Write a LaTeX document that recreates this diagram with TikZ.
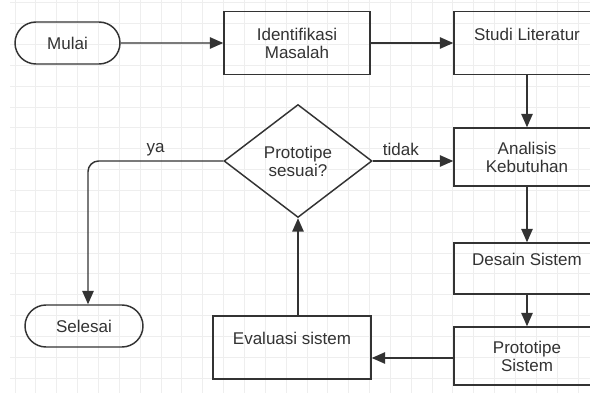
\documentclass[tikz,border=0pt]{standalone}
\usepackage{fontspec}
\setmainfont{Liberation Sans}
\usepackage{tikz}
\usetikzlibrary{shapes.misc,shapes.geometric,arrows.meta}
\definecolor{ink}{HTML}{333333}
\definecolor{gridgray}{HTML}{EEEEEE}

\begin{document}
\begin{tikzpicture}[x=0.75pt, y=-0.75pt,
    font=\fontsize{12.75}{13.5}\selectfont,
    gridline/.style={gridgray, line width=0.6pt},
    terminal/.style={draw=ink, text=ink, line width=1.1pt, rounded rectangle,
                     minimum height=31.5pt, inner sep=0pt},
    process/.style={draw=ink, text=ink, line width=1.1pt, rectangle, align=center,
                    minimum width=109.5pt, inner sep=0pt},
    decision/.style={draw=ink, text=ink, line width=1.1pt, diamond, align=center,
                     minimum width=111pt, minimum height=84.75pt, inner sep=0pt},
    flow/.style={draw=ink, line width=1.1pt, -{Triangle[length=10pt,width=8.5pt]}},
    lbl/.style={text=ink}]
    \useasboundingbox (0,0) rectangle (590,396);
    \fill [white] (0,0) rectangle (590,396);
    \clip (0,0) rectangle (590,396);
    % Draw background grid
    \foreach \i in {0,...,27}
        \draw [gridline] ({15+20.85*\i},0) -- ({15+20.85*\i},393);
    \foreach \j in {0,...,18}
        \draw [gridline] (10,{2.7+20.85*\j}) -- (590,{2.7+20.85*\j});
    % Draw nodes
    \node (mulai) [terminal, minimum width=78.75pt] at (67.5,43) {Mulai};
    \node (identifikasi) [process, minimum height=47.25pt] at (297,43) {Identifikasi\\Masalah};
    \node (studi) [process, minimum height=47.25pt] at (527,43) {Studi Literatur\\\mbox{}};
    \node (analisis) [process, minimum height=43.5pt] at (527,157) {Analisis\\Kebutuhan};
    \node (cek) [decision] at (298,161) {Prototipe\\sesuai?};
    \node (desain) [process, minimum height=38.25pt] at (527,268.5) {Desain Sistem\\\mbox{}};
    \node (prototipe) [process, minimum height=43.5pt] at (527,356) {Prototipe\\Sistem};
    \node (evaluasi) [process, minimum width=118.5pt, minimum height=47.25pt] at (292,347.5) {Evaluasi sistem\\\mbox{}};
    \node (selesai) [terminal, minimum width=88.5pt] at (84,326) {Selesai};
    % Draw connectors
    \draw [flow] (mulai) -- (identifikasi);
    \draw [flow] (identifikasi) -- (studi);
    \draw [flow] (studi) -- (analisis);
    \draw [flow] (analisis) -- (desain);
    \draw [flow] (desain) -- (prototipe);
    \draw [flow] (prototipe.west |- 0,358) -- (evaluasi.east |- 0,358);
    \draw [flow] (evaluasi.north -| cek.south) -- (cek.south);
    \draw [flow] (cek.east) -- (cek.east -| analisis.west) node [lbl, above, pos=0.35] {tidak};
    \draw [flow, rounded corners=8pt] (cek.west) -| ([xshift=3pt]selesai.north)
        node [lbl, above, pos=0.25] {ya};
\end{tikzpicture}
\end{document}
